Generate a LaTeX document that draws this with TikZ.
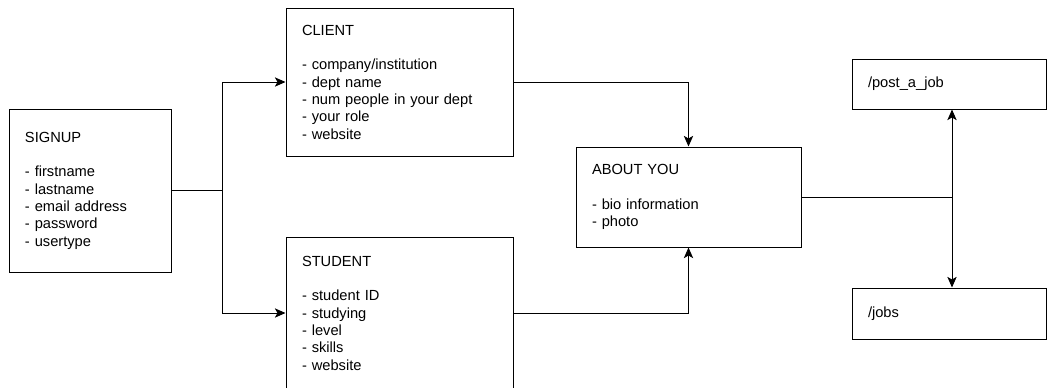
\documentclass[tikz,border=0pt]{standalone}
\usepackage{fontspec}
\setmainfont{Liberation Sans}
\usetikzlibrary{arrows.meta,calc,positioning}

\tikzset{
  formbox/.style={draw,line width=0.75pt,inner sep=0pt,align=left,
    font=\fontsize{11}{13}\selectfont},
  flow/.style={line width=0.75pt},
}

\begin{document}
\begin{tikzpicture}[x=0.75pt,y=-0.75pt,>={Stealth[length=8pt,width=7pt,inset=2pt]}]
    \useasboundingbox (0,0) rectangle (1047,387);

    \node[formbox,minimum width=121.5pt,minimum height=122.25pt,text width=97.5pt] (signup) at (90,190.5)
      {SIGNUP\\[13pt]- firstname\\- lastname\\- email address\\- password\\- usertype};
    \node[formbox,minimum width=170.25pt,minimum height=111pt,text width=146.25pt] (client) at (399.5,82)
      {CLIENT\\[13pt]- company/institution\\- dept name\\- num people in your dept\\- your role\\- website};
    \node[formbox,minimum width=170.25pt,minimum height=114pt,text width=146.25pt] (student) at (399.5,313)
      {STUDENT\\[13pt]- student ID\\- studying\\- level\\- skills\\- website};
    \node[formbox,minimum width=168.75pt,minimum height=75pt,text width=144.75pt] (about) at (688.5,197)
      {ABOUT YOU\\[13pt]- bio information\\- photo};
    \node[formbox,minimum width=145.5pt,minimum height=37.5pt,text width=121.5pt] (post) at (949,84)
      {/post\_a\_job};
    \node[formbox,minimum width=145.5pt,minimum height=38.25pt,text width=121.5pt] (jobs) at (949,313.5)
      {/jobs};

    \coordinate (split) at (222,190.5);
    \coordinate (hub) at (952,197);

    \draw[flow] (signup.east) -- (split);
    \draw[flow,->] (split) |- (client.west);
    \draw[flow,->] (split) |- (student.west);
    \draw[flow,->] (client.east) -| (about.north);
    \draw[flow,->] (student.east) -| (about.south);
    \draw[flow] (about.east) -- (hub);
    \draw[flow,<->] (post.south -| hub) -- (jobs.north -| hub);
\end{tikzpicture}
\end{document}
